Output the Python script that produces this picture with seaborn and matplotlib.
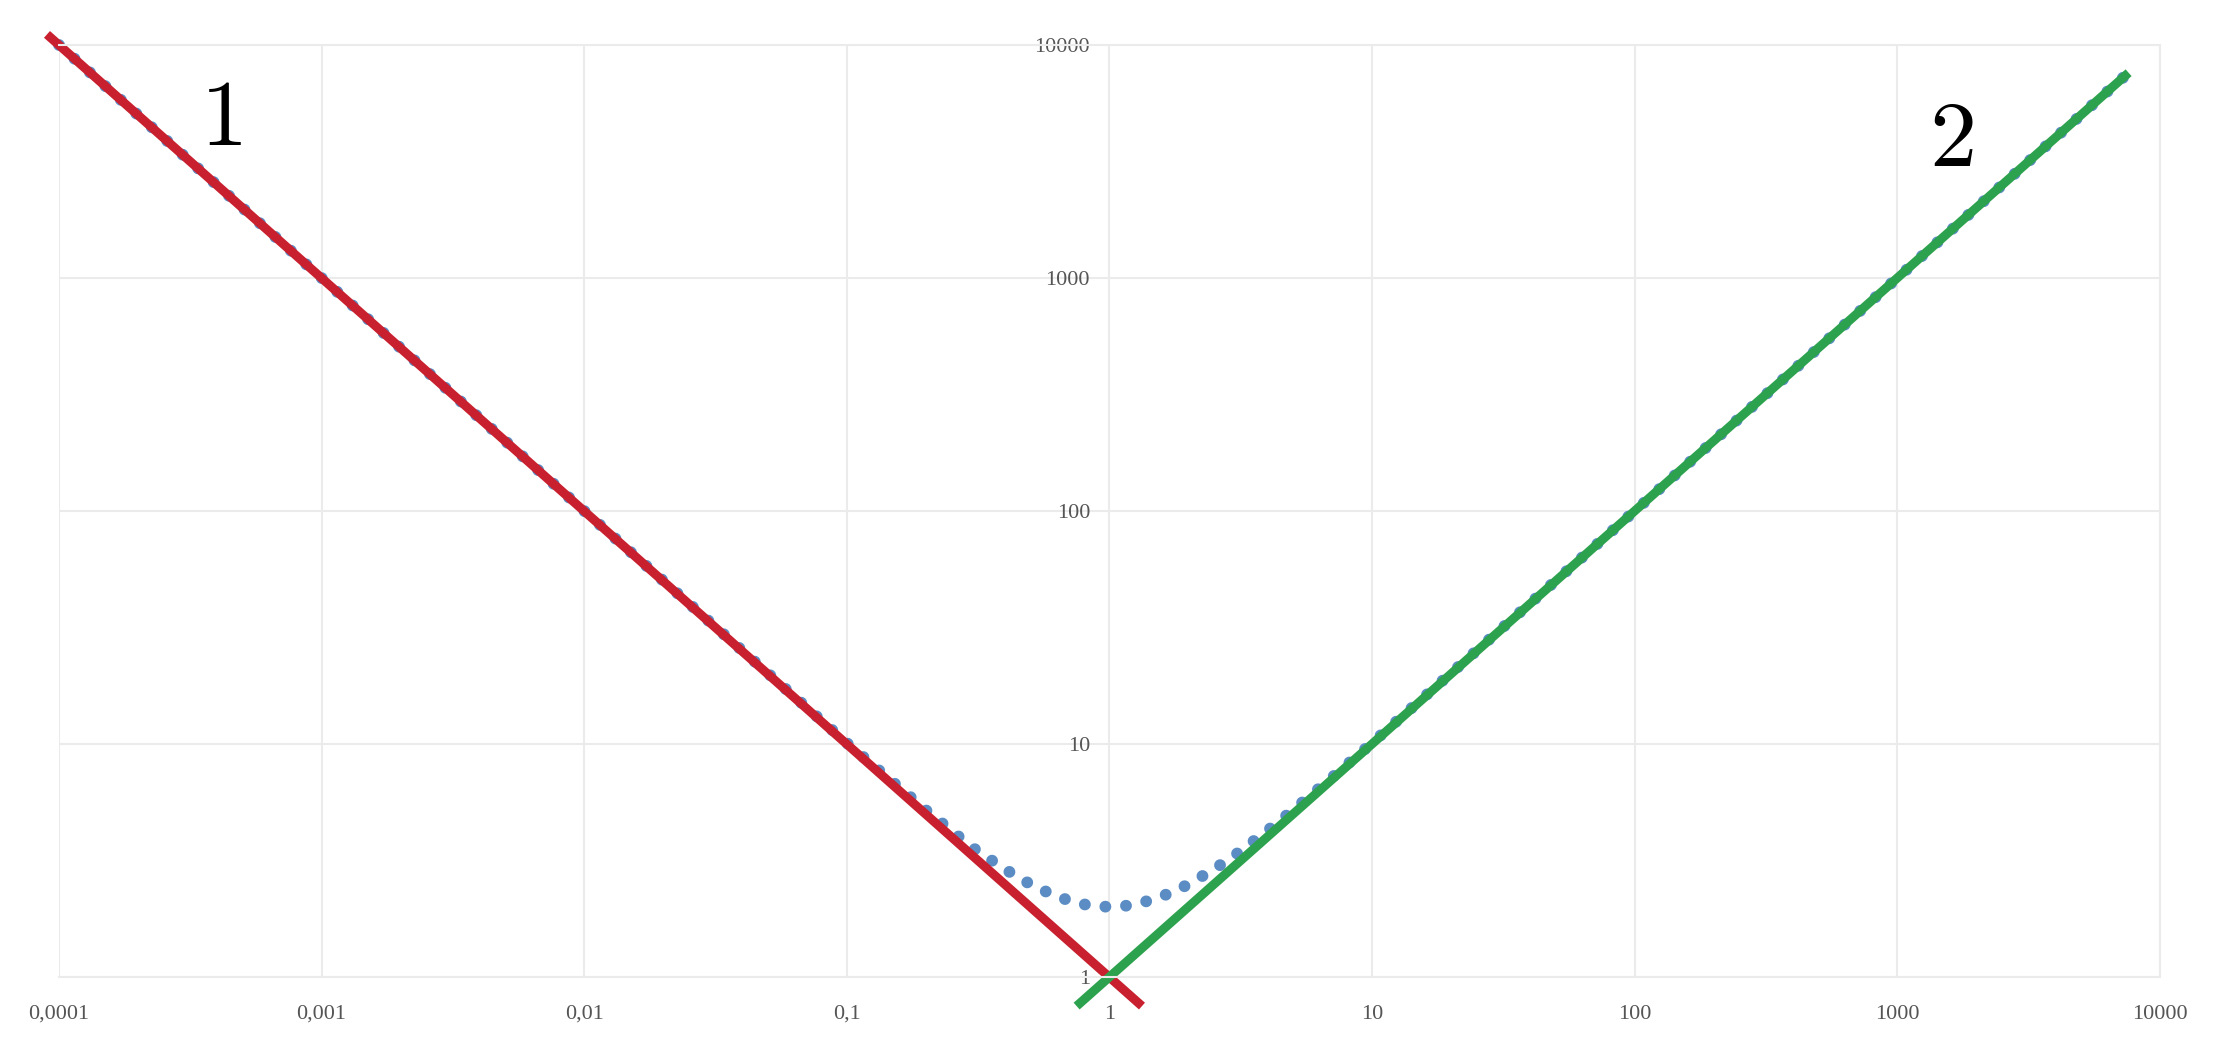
import matplotlib
matplotlib.use("Agg")
import matplotlib.pyplot as plt
import seaborn as sns

# blue dotted curve
curve_x = [0.0001, 0.001, 0.01, 0.1, 0.2, 0.3, 0.4, 0.5, 0.6, 0.7, 0.8, 0.9, 1.0,
           1.15, 1.3, 1.5, 1.75, 2.0, 2.5, 3.0, 4.0, 5.0, 7.0, 10, 100, 1000, 7500]
curve_y = [10000, 1000, 100, 10.1, 5.2, 3.6, 2.9, 2.5, 2.27, 2.13, 2.05, 2.01, 2.0,
           2.02, 2.07, 2.17, 2.32, 2.5, 2.9, 3.33, 4.25, 5.2, 7.14, 10.1, 100, 1000, 7500]

# asymptote 1 (red) and asymptote 2 (green)
line1_x = [0.00009, 1.33]
line1_y = [11100, 0.75]
line2_x = [0.75, 7600]
line2_y = [0.75, 7600]

xticks = [0.0001, 0.001, 0.01, 0.1, 1, 10, 100, 1000, 10000]
xtick_labels = ["0,0001", "0,001", "0,01", "0,1", "1", "10", "100", "1000", "10000"]
yticks = [1, 10, 100, 1000, 10000]
ytick_labels = ["1", "10", "100", "1000", "10000"]

sns.set_style("white")
plt.rcParams['font.family'] = ['Liberation Serif', 'DejaVu Serif']

fig = plt.figure(figsize=(22.18, 10.53), dpi=100)
ax = fig.add_axes([0.0266, 0.0722, 0.9472, 0.8851])
ax.set_xscale("log")
ax.set_yscale("log")

sns.lineplot(x=curve_x, y=curve_y, ax=ax, color="#5b8cc4", linewidth=8.5,
             linestyle=(0, (0.01, 1.74)), dash_capstyle="round", clip_on=False)
sns.lineplot(x=line1_x, y=line1_y, ax=ax, color="#c8202e", linewidth=6.5,
             solid_capstyle="butt", clip_on=False)
sns.lineplot(x=line2_x, y=line2_y, ax=ax, color="#2da24e", linewidth=6.5,
             solid_capstyle="butt", clip_on=False)

ax.set_xlim(0.0001, 10000)
ax.set_ylim(1, 10000)
ax.set_xticks(xticks)
ax.set_xticklabels(xtick_labels)
ax.set_yticks(yticks)
ax.set_yticklabels(ytick_labels)
ax.minorticks_off()

ax.grid(True, color="#ebebeb", linewidth=1.5)
ax.set_axisbelow(True)

# y axis sits at x = 1
ax.spines['left'].set_position(('data', 1))
ax.spines['left'].set_visible(False)
for s in ['top', 'right', 'bottom']:
    ax.spines[s].set_color("#ebebeb")
    ax.spines[s].set_linewidth(1.5)

ax.tick_params(axis='y', length=0, pad=14, labelsize=16, labelcolor="#555555")
ax.tick_params(axis='x', length=0, pad=20, labelsize=16, labelcolor="#555555")

ax.text(4.25e-4, 4700, "1", family="cmr10", fontsize=68, color="black",
        ha="center", va="center")
ax.text(1630, 3800, "2", family="cmr10", fontsize=68, color="black",
        ha="center", va="center")

fig.savefig("out.png", dpi=100, facecolor="white")
